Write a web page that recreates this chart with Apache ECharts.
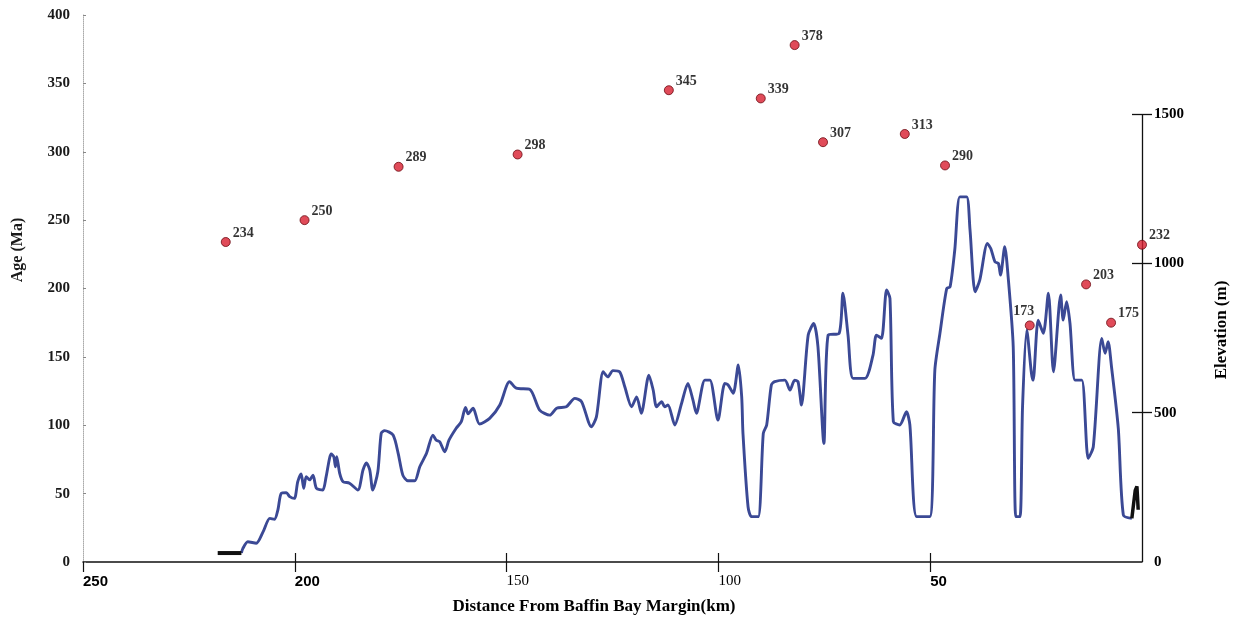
<!DOCTYPE html>
<html>
<head>
<meta charset="utf-8">
<script src="https://cdn.jsdelivr.net/npm/echarts@6/dist/echarts.min.js"></script>
<style>html,body{margin:0;padding:0;background:#fff}#c{width:1236px;height:622px}</style>
</head>
<body>
<div id="c"></div>
<script>
// ---- Data ----
// Sample ages (Ma) vs distance from Baffin Bay margin (km)
const sampleDist = [216.3, 197.7, 175.5, 147.4, 111.7, 90.0, 82.0, 75.3, 56.0, 46.5, 26.5, 13.2, 7.3, 0.0];
const sampleAge  = [234, 250, 289, 298, 345, 339, 378, 307, 313, 290, 173, 203, 175, 232];

// Topographic profile (elevation, m)
const elevDist = [212.6,212.3,211.1,209.1,207.5,205.9,204.8,204.0,203.2,202.0,201.2,200.1,199.3,198.5,197.9,197.3,196.5,195.7,194.9,193.4,192.6,191.4,190.8,190.4,190.1,189.4,188.6,187.1,185.1,183.9,183.1,182.3,181.6,180.4,179.6,178.8,176.8,175.6,174.5,173.3,171.7,170.5,168.9,167.4,166.6,165.8,164.6,163.6,161.9,160.7,159.7,159.1,157.9,156.4,154.0,151.6,149.3,147.7,144.5,142.2,139.8,138.2,135.9,133.9,132.3,130.0,128.8,127.2,126.1,124.9,123.3,122.1,120.5,119.3,118.2,116.4,115.4,114.6,113.4,112.7,111.9,110.3,108.7,107.2,106.0,105.2,103.2,102.0,100.1,98.5,97.7,96.5,95.3,94.5,94.2,93.0,92.2,90.6,89.4,88.6,87.5,86.7,84.3,83.1,82.0,81.2,80.4,78.8,77.5,76.5,75.1,74.1,71.5,70.6,69.4,68.2,65.4,63.5,62.7,61.5,60.3,59.5,58.7,57.2,55.6,54.8,53.2,50.1,48.9,47.7,46.1,45.3,44.2,43.0,41.4,40.6,39.4,38.3,36.5,35.7,34.7,33.9,33.4,32.4,31.6,30.4,29.8,28.8,28.2,27.2,26.1,25.7,24.5,23.3,22.1,20.9,19.2,18.6,17.8,17.0,15.8,14.2,12.7,11.5,9.5,8.7,8.0,7.2,5.6,4.4,2.4];
const elevM    = [30,44,68,63,101,146,143,174,230,232,219,213,269,295,247,286,275,291,247,241,286,362,353,319,353,297,269,264,241,308,332,308,241,302,431,440,425,364,291,272,272,319,364,425,408,403,369,408,448,470,518,496,515,462,481,526,604,582,578,509,492,515,520,548,537,453,486,637,620,641,637,587,520,553,498,626,576,520,537,520,526,459,531,598,542,498,609,609,475,598,593,565,660,553,431,185,152,152,431,459,593,604,609,576,609,604,526,760,799,721,397,760,766,900,760,615,615,693,760,749,911,883,470,459,503,459,152,152,643,766,916,922,1045,1223,1223,1112,905,944,1067,1050,1005,1000,961,1056,955,721,152,152,520,777,632,609,810,766,900,637,894,810,872,799,609,609,347,386,749,699,738,654,448,157,146];

// Black end segments of the profile
const startDist = [218.2, 212.6];
const startM    = [30, 30];
const endDist   = [2.4, 1.6, 1.2, 0.9];
const endM      = [146, 240, 253, 175];

// Axis ticks
const distTicks = [0, 50, 100, 150, 200, 250];
const ageTicks  = [0, 50, 100, 150, 200, 250, 300, 350, 400];
const elevTicks = [0, 500, 1000, 1500];

const zip = (a, b) => a.map((v, i) => [v, b[i]]);

const serif = "'Liberation Serif','Times New Roman',serif";
const narrow = "'Liberation Sans Narrow','Liberation Sans',sans-serif";
const elevAxisMax = 1832; // right axis scale so that 1500 m sits below the top

const chart = echarts.init(document.getElementById('c'), null, {renderer: 'canvas'});
chart.setOption({
  animation: false,
  backgroundColor: '#fff',
  grid: {left: 83, right: 94, top: 15, bottom: 60, containLabel: false},
  xAxis: [{
    type: 'value', inverse: true, min: distTicks[0], max: distTicks[distTicks.length - 1], interval: 50,
    position: 'bottom',
    axisLine: {show: true, onZero: false, lineStyle: {color: '#111', width: 1.5}},
    axisTick: {show: true, inside: false, length: 10, customValues: distTicks.slice(1), lineStyle: {color: '#111', width: 1.2}},
    splitLine: {show: false},
    axisLabel: {
      align: 'left', margin: 12,
      formatter: v => v === 0 ? '' : ((v === 150 || v === 100) ? '{s|' + v + '}' : '{b|' + v + '}'),
      rich: {
        b: {fontFamily: narrow, fontWeight: 'bold', fontSize: 15, color: '#000'},
        s: {fontFamily: serif, fontSize: 15, color: '#000'}
      }
    }
  }, {
    type: 'value', inverse: true, min: distTicks[0], max: distTicks[distTicks.length - 1], interval: 50,
    position: 'bottom',
    axisLine: {show: false, onZero: false},
    axisTick: {show: true, inside: true, length: 9, customValues: [50, 100, 150, 200], lineStyle: {color: '#111', width: 1.2}},
    axisLabel: {show: false},
    splitLine: {show: false}
  }],
  yAxis: [{
    type: 'value', min: 0, max: ageTicks[ageTicks.length - 1], interval: 50, position: 'left',
    axisLine: {show: true, onZero: false, lineStyle: {color: '#aaa', width: 1, type: 'dotted'}},
    axisTick: {show: true, inside: true, length: 3, lineStyle: {color: '#888'}},
    splitLine: {show: false},
    axisLabel: {margin: 13, fontFamily: serif, fontWeight: 'bold', fontSize: 15, color: '#1a1a1a'}
  }, {
    type: 'value', min: 0, max: elevAxisMax, interval: 500, position: 'right',
    axisLine: {show: false, onZero: false},
    axisTick: {show: true, inside: false, length: 10, customValues: [500, 1000, 1500], lineStyle: {color: '#111', width: 1.3}},
    splitLine: {show: false},
    axisLabel: {margin: 12, customValues: elevTicks, formatter: v => String(v), fontFamily: serif, fontWeight: 'bold', fontSize: 15, color: '#000'}
  }, {
    type: 'value', min: 0, max: elevAxisMax, interval: 500, position: 'right',
    axisLine: {show: false, onZero: false},
    axisTick: {show: true, inside: true, length: 10, customValues: [500, 1000, 1500], lineStyle: {color: '#111', width: 1.3}},
    axisLabel: {show: false},
    splitLine: {show: false}
  }],
  graphic: [
    {type: 'text', x: 18, y: 250, rotation: Math.PI / 2,
      style: {text: 'Age (Ma)', fontFamily: serif, fontWeight: 'bold', fontSize: 16, fill: '#1a1a1a', textAlign: 'center', textVerticalAlign: 'middle'}},
    {type: 'text', x: 1222, y: 330, rotation: Math.PI / 2,
      style: {text: 'Elevation (m)', fontFamily: serif, fontWeight: 'bold', fontSize: 17, fill: '#000', textAlign: 'center', textVerticalAlign: 'middle'}},
    {type: 'text', x: 594, y: 607,
      style: {text: 'Distance From Baffin Bay Margin(km)', fontFamily: serif, fontWeight: 'bold', fontSize: 17, fill: '#000', textAlign: 'center', textVerticalAlign: 'middle'}}
  ],
  series: [{
    name: 'Elevation', type: 'line', xAxisIndex: 0, yAxisIndex: 1,
    data: zip(elevDist, elevM), showSymbol: false, smooth: 0.25,
    lineStyle: {color: '#3b4995', width: 2.9}, z: 3,
    markLine: {
      silent: true, symbol: 'none', label: {show: false},
      lineStyle: {color: '#111', width: 1.3, type: 'solid'},
      data: [[{coord: [0, elevTicks[0]]}, {coord: [0, elevTicks[elevTicks.length - 1]]}]]
    }
  }, {
    name: 'start', type: 'line', xAxisIndex: 0, yAxisIndex: 1,
    data: zip(startDist, startM), showSymbol: false,
    lineStyle: {color: '#111', width: 4}, z: 4
  }, {
    name: 'end', type: 'line', xAxisIndex: 0, yAxisIndex: 1,
    data: zip(endDist, endM), showSymbol: false,
    lineStyle: {color: '#111', width: 3.5}, z: 4
  }, {
    name: 'Age', type: 'scatter', xAxisIndex: 0, yAxisIndex: 0,
    data: sampleDist.map((d, i) => {
      const item = {value: [d, sampleAge[i]]};
      if (sampleAge[i] === 173) item.label = {position: 'top', distance: 2, offset: [-6, 0]};
      return item;
    }),
    symbol: 'circle', symbolSize: 9,
    itemStyle: {color: '#d81e30', borderColor: '#6b0a12', borderWidth: 1},
    label: {show: true, position: 'right', distance: 2, offset: [0, -9],
      formatter: p => p.value[1], fontFamily: serif, fontWeight: 'bold', fontSize: 14, color: '#000'},
    z: 6
  }]
});
</script>
</body>
</html>
